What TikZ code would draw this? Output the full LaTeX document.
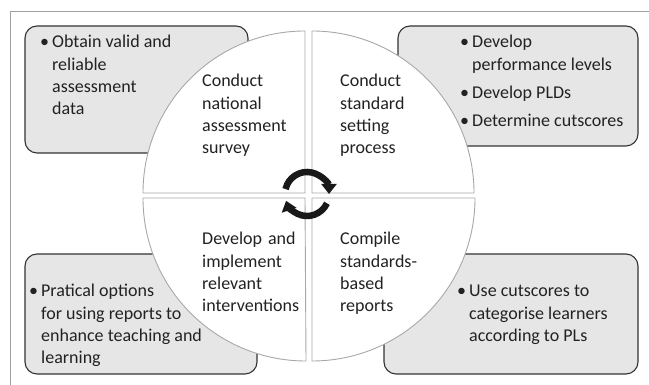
\documentclass[tikz,border=0pt]{standalone}
\usepackage{fontspec}
\setmainfont{Carlito}
\usetikzlibrary{arrows.meta}
\definecolor{framegray}{HTML}{A0A0A0}
\definecolor{quadgray}{HTML}{A8A8A8}
\definecolor{boxfill}{HTML}{E6E6E6}
\definecolor{boxline}{HTML}{333333}
\definecolor{txt}{HTML}{222222}
\newcommand{\bt}{\textbullet}
\tikzset{
  infobox/.style={fill=boxfill, draw=boxline, line width=1.1pt, rounded corners=12pt},
  quad/.style={fill=white, draw=quadgray, line width=0.9pt},
  qtext/.style={anchor=base west, inner sep=0pt, text width=130pt, align=left, text=txt,
    font=\fontsize{18}{22.3}\selectfont},
  btext/.style={anchor=base west, inner sep=0pt, text=txt,
    font=\fontsize{18}{22.3}\selectfont},
  cyc/.style={line width=6.5pt, draw=black!90, -{Triangle[width=15pt,length=10pt]}}
}
\begin{document}
\begin{tikzpicture}[x=1pt,y=1pt]
\useasboundingbox (0,0) rectangle (649,385);
% outer frame (cropped)
\draw[framegray, line width=0.9pt] (10,-5) -- (10,374) -- (660,374);
% grey boxes
\draw[infobox] (25,232) rectangle (248,359);
\draw[infobox] (398,239) rectangle (638,359);
\draw[infobox] (25,11) rectangle (257,131);
\draw[infobox] (384,11) rectangle (638,131);
% quadrants
\draw[quad] (305,192) -- (305,354) arc[start angle=90, end angle=180, radius=162] -- cycle;
\draw[quad] (312,192) -- (474,192) arc[start angle=0, end angle=90, radius=162] -- cycle;
\draw[quad] (305,187) -- (143,187) arc[start angle=180, end angle=270, radius=163] -- cycle;
\draw[quad] (312,187) -- (312,24) arc[start angle=270, end angle=360, radius=163] -- cycle;
% cycle arrows
\coordinate (cc) at (307,191);
\draw[cyc] (cc) ++(167:22) arc[start angle=167, end angle=0, radius=22];
\draw[cyc] (cc) ++(-25:22) arc[start angle=-25, end angle=-162, radius=22];
% quadrant texts
\node[qtext] (q1) at (202,298) {Conduct\\national\\assessment\\survey};
\node[qtext] (q2) at (340,298) {Conduct\\standard\\setting\\process};
\node[qtext] (q3) at (202,140) {Develop and\\implement\\relevant\\interventions};
\node[qtext] (q4) at (340,140) {Compile\\standards-\\based\\reports};
% box texts
\node[btext] (b1) at (40,337) {\begin{tabular}[t]{@{}p{12pt}@{}l@{}}
  \bt & Obtain valid and\\ & reliable\\ & assessment\\ & data\end{tabular}};
\node[btext] (b2) at (460,337) {\begin{tabular}[t]{@{}p{12pt}@{}l@{}}
  \bt & Develop\\ & performance levels\\[5.7pt] \bt & Develop PLDs\\[5.7pt] \bt & Determine cutscores\end{tabular}};
\node[btext] (b3) at (29,88) {\begin{tabular}[t]{@{}p{12pt}@{}l@{}}
  \bt & Pratical options\\ & for using reports to\\ & enhance teaching and\\ & learning\end{tabular}};
\node[btext] (b4) at (457,88) {\begin{tabular}[t]{@{}p{12pt}@{}l@{}}
  \bt & Use cutscores to\\ & categorise learners\\ & according to PLs\end{tabular}};
\end{tikzpicture}
\end{document}
